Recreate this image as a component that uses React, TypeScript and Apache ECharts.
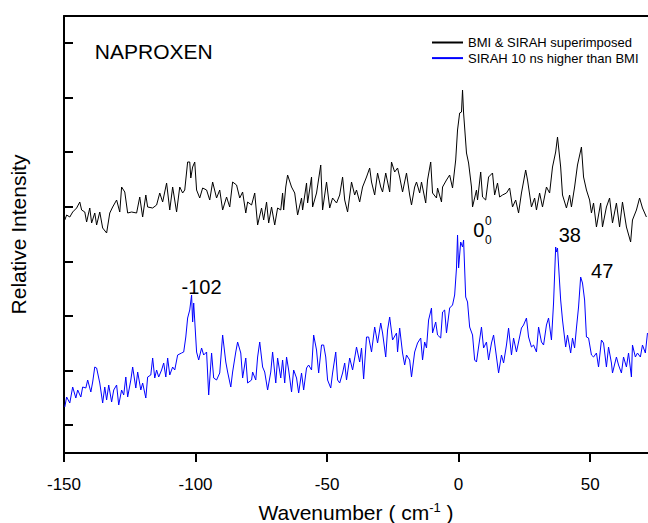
import { useEffect, useRef } from "react";
import * as echarts from "echarts";

const FONT = "'Liberation Sans', Arial, Helvetica, sans-serif";

const seriesNames = ["BMI & SIRAH superimposed", "SIRAH 10 ns higher than BMI"];
const xTicks = [-150, -100, -50, 0, 50];
const yTicks = [28, 82, 137, 191, 246, 301, 355, 410];

const blackSpectrum: [number, number][] = [
  [-149.7,233],[-149.0,238],[-147.8,236],[-146.7,241],[-145.2,245],[-144.0,251],[-143.3,243],[-142.1,241],[-141.4,231],[-140.2,245],
  [-139.5,230],[-138.3,240],[-137.6,228],[-136.4,241],[-135.3,225],[-133.8,220],[-132.6,240],[-131.5,246],[-130.0,253],[-128.8,241],
  [-128.1,266],[-126.9,261],[-125.8,240],[-124.3,241],[-122.4,240],[-121.2,256],[-120.1,236],[-118.9,258],[-118.2,246],[-116.3,245],
  [-114.8,248],[-113.6,260],[-112.5,251],[-111.0,270],[-109.8,243],[-108.7,266],[-107.2,241],[-106.0,266],[-104.9,260],[-104.1,263],
  [-103.0,291],[-102.2,291],[-101.8,275],[-101.1,286],[-100.3,291],[-99.6,263],[-98.4,255],[-97.3,265],[-95.8,263],[-94.6,253],
  [-93.5,271],[-92.0,255],[-90.8,263],[-89.7,243],[-88.2,256],[-87.0,246],[-85.9,271],[-84.4,268],[-83.2,255],[-82.1,261],
  [-80.9,240],[-80.2,251],[-78.7,248],[-77.5,260],[-76.4,228],[-74.9,245],[-74.1,233],[-73.0,251],[-72.2,230],[-71.1,246],
  [-69.9,228],[-68.8,245],[-67.6,243],[-66.9,260],[-66.5,243],[-65.7,266],[-65.0,278],[-63.5,266],[-62.3,260],[-61.2,238],
  [-59.7,255],[-59.3,243],[-57.8,270],[-57.4,250],[-55.9,276],[-55.5,246],[-54.0,260],[-52.4,288],[-51.7,243],[-50.2,271],
  [-49.0,245],[-47.9,255],[-46.4,250],[-45.2,258],[-44.1,276],[-43.3,253],[-42.2,241],[-40.7,271],[-39.5,258],[-38.8,263],
  [-37.6,251],[-36.5,266],[-35.0,276],[-33.8,285],[-33.1,271],[-31.9,258],[-30.8,280],[-29.6,266],[-28.9,261],[-27.7,280],
  [-26.2,261],[-25.5,291],[-24.3,281],[-23.2,285],[-22.4,276],[-21.3,261],[-19.8,280],[-18.6,258],[-17.9,248],[-16.7,266],
  [-16.0,271],[-14.8,260],[-14.1,271],[-12.5,250],[-11.8,273],[-10.6,291],[-9.9,260],[-8.4,255],[-8.0,265],[-6.5,251],
  [-6.1,266],[-4.6,273],[-3.4,278],[-2.3,265],[-1.1,293],[-0.4,323],[0.4,340],[1.1,341],[1.5,363],[1.9,340],
  [3.0,300],[3.8,290],[4.9,266],[5.3,246],[6.8,263],[7.2,253],[8.4,281],[9.1,256],[10.3,253],[11.4,276],
  [12.9,280],[13.7,258],[14.8,270],[15.6,256],[16.7,258],[18.2,260],[19.4,265],[20.5,246],[21.7,253],[22.8,240],
  [23.9,260],[25.5,283],[26.2,273],[27.7,246],[28.9,255],[29.6,243],[30.8,260],[31.9,246],[33.4,266],[34.6,260],
  [35.7,286],[36.9,301],[37.6,316],[38.8,286],[39.5,258],[41.0,245],[42.2,258],[42.9,246],[44.1,266],[45.2,288],
  [46.7,306],[47.5,276],[48.6,263],[49.8,253],[50.5,240],[51.3,250],[52.4,226],[54.0,250],[54.7,226],[56.2,246],
  [57.4,255],[58.5,230],[60.0,250],[61.2,226],[62.3,251],[63.8,226],[65.4,211],[66.1,233],[67.6,243],[68.8,255],
  [69.9,245],[71.4,236],
];

const blueSpectrum: [number, number][] = [
  [-149.7,46],[-149.0,56],[-147.8,50],[-146.7,66],[-145.5,55],[-144.8,63],[-143.6,56],[-142.9,66],[-141.7,65],[-141.0,73],
  [-139.8,61],[-139.1,71],[-138.3,86],[-137.6,85],[-136.4,70],[-135.3,50],[-134.5,66],[-133.8,53],[-133.0,68],[-131.9,51],
  [-131.1,63],[-130.0,68],[-129.2,48],[-128.1,63],[-127.3,58],[-126.5,76],[-125.8,56],[-124.6,73],[-123.9,86],[-122.7,65],
  [-122.0,81],[-120.8,63],[-120.1,70],[-118.9,55],[-118.2,76],[-117.0,78],[-116.3,95],[-115.5,75],[-114.8,83],[-114.0,76],
  [-112.9,83],[-112.1,90],[-111.3,76],[-110.6,95],[-109.8,78],[-108.7,86],[-107.9,83],[-106.8,98],[-105.3,100],[-104.5,101],
  [-103.7,116],[-103.0,135],[-102.2,143],[-101.5,158],[-101.1,131],[-100.7,150],[-99.6,101],[-98.8,93],[-97.7,105],[-96.9,98],
  [-95.8,101],[-95.0,58],[-93.9,100],[-93.1,75],[-92.0,73],[-90.8,80],[-89.7,118],[-88.5,91],[-87.8,81],[-86.6,66],
  [-85.9,81],[-84.7,101],[-84.0,111],[-82.8,100],[-82.1,75],[-80.9,95],[-80.2,70],[-78.7,73],[-78.3,81],[-77.1,73],
  [-76.4,96],[-75.6,111],[-74.5,86],[-73.7,81],[-72.6,63],[-71.4,81],[-70.7,101],[-69.5,70],[-68.8,95],[-67.6,75],
  [-66.9,93],[-66.1,70],[-65.4,96],[-64.6,83],[-63.5,61],[-62.7,83],[-61.6,75],[-60.8,60],[-59.7,80],[-58.9,63],
  [-57.8,85],[-57.0,88],[-55.9,83],[-55.1,118],[-54.0,103],[-53.2,80],[-52.1,108],[-51.3,108],[-50.5,96],[-49.8,73],
  [-48.6,65],[-47.9,80],[-46.7,101],[-46.0,73],[-45.2,70],[-44.1,80],[-43.3,90],[-42.6,73],[-41.4,95],[-40.3,83],
  [-39.5,95],[-38.8,106],[-37.6,91],[-36.9,105],[-36.1,74],[-35.0,116],[-34.2,116],[-33.1,101],[-31.9,126],[-30.8,110],
  [-29.6,130],[-28.9,120],[-27.7,96],[-27.0,123],[-26.2,136],[-25.1,113],[-23.6,120],[-23.2,101],[-22.4,125],[-21.3,100],
  [-20.5,88],[-19.8,98],[-18.6,93],[-17.9,76],[-16.7,101],[-15.6,110],[-14.4,115],[-13.7,93],[-12.9,111],[-12.2,105],
  [-11.4,133],[-10.3,145],[-9.9,120],[-8.7,131],[-8.0,118],[-6.8,115],[-6.1,141],[-5.3,143],[-4.6,120],[-3.4,145],
  [-2.3,148],[-1.5,158],[-0.8,185],[-0.4,218],[0.0,185],[0.8,211],[1.5,206],[1.9,213],[2.7,156],[3.4,151],
  [4.2,126],[5.3,118],[6.1,93],[6.8,91],[7.6,106],[8.7,126],[9.5,105],[10.6,111],[11.4,93],[12.5,110],
  [13.3,118],[14.4,96],[15.2,80],[16.3,98],[17.1,90],[18.2,108],[19.0,125],[20.1,98],[20.9,115],[22.0,101],
  [22.8,111],[23.9,125],[24.7,128],[25.8,135],[26.6,116],[27.7,106],[28.5,108],[29.6,101],[30.4,126],[31.5,111],
  [32.3,108],[33.4,128],[34.2,135],[35.3,113],[36.1,150],[36.9,206],[37.2,201],[37.6,205],[38.8,153],[39.5,133],
  [40.7,106],[41.4,118],[42.6,100],[43.3,115],[44.1,105],[44.8,125],[45.6,146],[46.4,176],[47.1,170],[47.9,153],
  [48.6,116],[49.4,115],[50.5,98],[51.3,96],[52.4,100],[53.2,86],[54.3,113],[55.1,110],[56.2,86],[57.0,106],
  [58.1,90],[58.5,80],[60.0,96],[60.8,88],[61.9,80],[62.7,96],[63.8,86],[64.6,100],[65.7,76],[66.1,108],
  [67.2,96],[68.0,100],[69.1,96],[69.9,108],[71.0,100],[71.8,120],
];

const peakLabels = [
  { text: "-102", coord: [-97.7, 166.5] },
  { text: "38", coord: [42.3, 217.7] },
  { text: "47", coord: [54.6, 181.7] },
];
const originLabel = { text: "0", coord: [7.7, 222.7] };
const originSuperscript = { text: "0", coord: [11.3, 232.2] };
const originSubscript = { text: "0", coord: [11.3, 212.8] };
const compoundName = { text: "NAPROXEN", coord: [-115.9, 401.5] };

export default function App() {
  const ref = useRef<HTMLDivElement>(null);
  useEffect(() => {
    if (!ref.current) return;
    const chart = echarts.init(ref.current, null, { renderer: "svg" });
    const textLabel = (text: string, coord: number[], size: number) => ({
      coord,
      value: text,
      symbol: "rect",
      symbolSize: 1,
      itemStyle: { color: "rgba(0,0,0,0)" },
      label: {
        show: true,
        position: "inside",
        formatter: text,
        color: "#000000",
        fontSize: size,
        fontFamily: FONT,
      },
    });
    chart.setOption({
      animation: false,
      backgroundColor: "#fff",
      textStyle: { fontFamily: FONT },
      grid: { left: 64, right: 0, top: 16, bottom: 70, containLabel: false, outerBoundsMode: "none" },
      legend: {
        data: seriesNames,
        left: 431,
        top: 36,
        padding: 0,
        orient: "vertical",
        itemWidth: 31,
        itemHeight: 13,
        itemGap: 2.6,
        itemStyle: { opacity: 0 },
        textStyle: { fontSize: 13, color: "#000", fontFamily: FONT },
      },
      xAxis: [
        {
          type: "value",
          min: -150,
          max: 72,
          position: "bottom",
          name: "Wavenumber ( cm{sup|-1} )",
          nameLocation: "middle",
          nameGap: 48,
          nameTextStyle: {
            fontSize: 21,
            color: "#000",
            fontFamily: FONT,
            rich: { sup: { fontSize: 13, color: "#000", fontFamily: FONT, verticalAlign: "top", padding: [0, 0, 10, 0] } },
          },
          axisLine: { show: true, onZero: false, lineStyle: { color: "#000", width: 2 } },
          axisTick: { show: true, inside: false, length: 9, customValues: xTicks, lineStyle: { color: "#000", width: 2 } },
          axisLabel: { show: true, customValues: xTicks, fontSize: 17, color: "#000", margin: 23, fontFamily: FONT },
          splitLine: { show: false },
        },
        {
          type: "value",
          min: -150,
          max: 72,
          position: "top",
          axisLine: { show: true, onZero: false, lineStyle: { color: "#000", width: 2 } },
          axisTick: { show: false },
          axisLabel: { show: false },
          splitLine: { show: false },
        },
      ],
      yAxis: {
        type: "value",
        min: 0,
        max: 437,
        name: "Relative Intensity",
        nameLocation: "middle",
        nameGap: 35,
        nameTextStyle: { fontSize: 21, color: "#000", fontFamily: FONT },
        axisLine: { show: true, onZero: false, lineStyle: { color: "#000", width: 2 } },
        axisTick: { show: true, inside: true, length: 9, customValues: yTicks, lineStyle: { color: "#000", width: 2 } },
        axisLabel: { show: false },
        splitLine: { show: false },
      },
      series: [
        {
          name: seriesNames[0],
          type: "line",
          data: blackSpectrum,
          symbol: "none",
          lineStyle: { color: "#000", width: 1 },
          itemStyle: { color: "#000" },
          markPoint: {
            silent: true,
            data: [
              textLabel(compoundName.text, compoundName.coord, 21),
              ...peakLabels.map((p) => textLabel(p.text, p.coord, 20)),
              textLabel(originLabel.text, originLabel.coord, 20),
              textLabel(originSuperscript.text, originSuperscript.coord, 12),
              textLabel(originSubscript.text, originSubscript.coord, 12),
            ],
          },
        },
        {
          name: seriesNames[1],
          type: "line",
          data: blueSpectrum,
          symbol: "none",
          lineStyle: { color: "#0000ff", width: 1 },
          itemStyle: { color: "#0000ff" },
        },
      ],
    });
    return () => chart.dispose();
  }, []);
  return (
    <div
      ref={ref}
      style={{ position: "fixed", left: 0, top: 0, width: 648, height: 523, background: "#fff" }}
    />
  );
}
